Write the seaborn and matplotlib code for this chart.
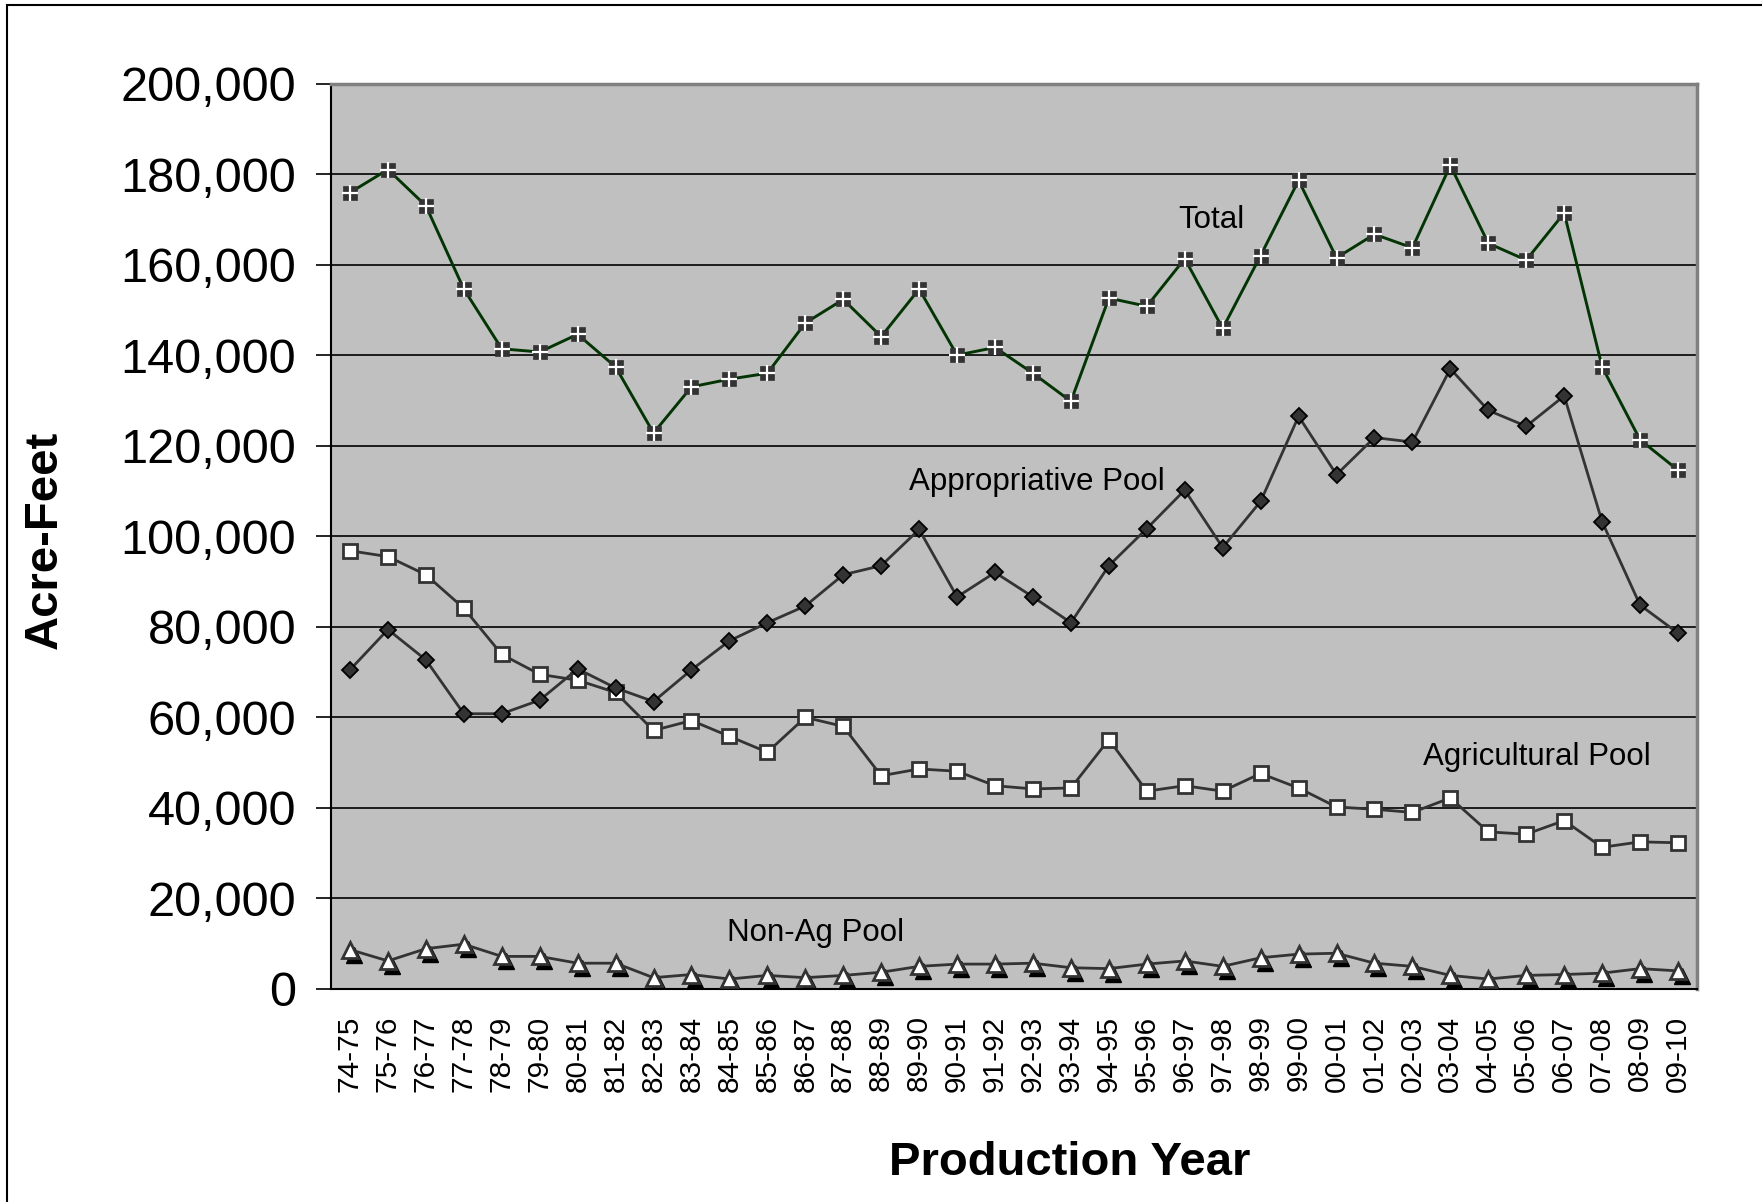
import numpy as np
import pandas as pd
import matplotlib
matplotlib.use("Agg")
import matplotlib.pyplot as plt
import seaborn as sns
from matplotlib.ticker import FuncFormatter, FixedLocator
from matplotlib.transforms import offset_copy
from matplotlib.patches import Rectangle

years = ["74-75", "75-76", "76-77", "77-78", "78-79", "79-80", "80-81", "81-82",
         "82-83", "83-84", "84-85", "85-86", "86-87", "87-88", "88-89", "89-90",
         "90-91", "91-92", "92-93", "93-94", "94-95", "95-96", "96-97", "97-98",
         "98-99", "99-00", "00-01", "01-02", "02-03", "03-04", "04-05", "05-06",
         "06-07", "07-08", "08-09", "09-10"]

total = [175900, 181000, 173000, 154600, 141400, 140700, 144600, 137400,
         122800, 133000, 134700, 136000, 147100, 152300, 144100, 154600,
         140000, 141700, 136000, 129800, 152600, 150800, 161300, 145900,
         162000, 178600, 161500, 166700, 163700, 181900, 164700, 161000,
         171400, 137400, 121300, 114600]

appropriative = [70500, 79400, 72700, 60800, 60800, 63800, 70700, 66500,
                 63500, 70500, 76900, 80900, 84600, 91500, 93500, 101500,
                 86600, 92000, 86600, 80900, 93500, 101700, 110200, 97500,
                 107700, 126500, 113600, 121800, 120800, 137000, 127800, 124300,
                 131000, 103200, 84800, 78600]

agricultural = [96800, 95500, 91500, 84100, 73900, 69500, 68200, 65500,
                57100, 59300, 55800, 52300, 60000, 58000, 47100, 48600,
                48100, 44900, 44200, 44400, 55100, 43700, 44900, 43700,
                47600, 44400, 40200, 39700, 39000, 42200, 34700, 34200,
                37200, 31300, 32500, 32300]

non_ag = [8700, 6200, 8900, 9900, 7200, 7200, 5700, 5700,
          2500, 3200, 2200, 3000, 2500, 3000, 3700, 5000,
          5500, 5500, 5700, 4700, 4500, 5500, 6200, 5000,
          6900, 7700, 7900, 5700, 5000, 3000, 2200, 3000,
          3200, 3500, 4500, 4000]

y_ticks = list(range(0, 200001, 20000))

sns.set_style("white")
plt.rcParams['font.family'] = ['Liberation Sans', 'DejaVu Sans']
plt.rcParams['text.color'] = 'black'
plt.rcParams['xtick.color'] = 'black'
plt.rcParams['ytick.color'] = 'black'

W, H = 1762, 1202
fig = plt.figure(figsize=(W / 100, H / 100), dpi=100)
L, R, T, B = 331, 1697, 83.5, 989
ax = fig.add_axes([L / W, 1 - B / H, (R - L) / W, (B - T) / H])
ax.set_facecolor('#C0C0C0')

x = np.arange(len(years))
df = pd.DataFrame({"x": x, "Total": total, "Appropriative": appropriative,
                   "Agricultural": agricultural, "NonAg": non_ag})

line_gray = '#333333'

# Non-Ag shadow triangles
ax.plot(df["x"], df["NonAg"], ls='none', marker='^', ms=11, mfc='black', mec='black',
        transform=offset_copy(ax.transData, fig=fig, x=4, y=-5, units='dots'), zorder=2.5)

sns.lineplot(data=df, x="x", y="NonAg", ax=ax, color=line_gray, lw=2.0, marker='^',
             markersize=11, markerfacecolor='white', markeredgecolor=line_gray,
             markeredgewidth=2.0, sort=False, zorder=3)

sns.lineplot(data=df, x="x", y="Agricultural", ax=ax, color=line_gray, lw=2.0, marker='s',
             markersize=10, markerfacecolor='white', markeredgecolor=line_gray,
             markeredgewidth=2.0, sort=False, zorder=3)

sns.lineplot(data=df, x="x", y="Appropriative", ax=ax, color=line_gray, lw=2.0, marker='D',
             markersize=8, markerfacecolor='#333333', markeredgecolor='black',
             markeredgewidth=1.3, sort=False, zorder=3)

sns.lineplot(data=df, x="x", y="Total", ax=ax, color='#033403', lw=2.1, marker='s',
             markersize=10.5, markerfacecolor='#333333', markeredgecolor='#333333',
             markeredgewidth=0.5, sort=False, zorder=3)
ax.plot(df["x"], df["Total"], ls='none', marker='+', ms=11, mew=1.6, color='white', zorder=4)

# axes
ax.set_xlim(-0.5, len(years) - 0.5)
ax.set_ylim(0, 200000)
ax.set_yticks(y_ticks)
ax.yaxis.set_major_formatter(FuncFormatter(lambda v, p: f"{int(v):,}"))
ax.set_xticks(x)
ax.set_xticklabels(years, rotation=90)
ax.xaxis.set_minor_locator(FixedLocator(np.arange(-0.5, len(years), 1.0)))
ax.tick_params(axis='x', which='major', length=0, pad=19, labelsize=21.5, labelcolor='black')
ax.tick_params(axis='x', which='minor', length=7, width=1.2, color='black')
ax.tick_params(axis='y', which='major', length=11, width=1.2, color='black', pad=14,
               labelsize=35, labelcolor='black', left=True)
ax.set_xlabel("")
ax.set_ylabel("")

ax.yaxis.grid(True, color='black', lw=1.2)
ax.xaxis.grid(False)
ax.set_axisbelow(True)

for s in ['left', 'bottom']:
    ax.spines[s].set_color('black')
    ax.spines[s].set_linewidth(1.5)
for s in ['top', 'right']:
    ax.spines[s].set_color('#808080')
    ax.spines[s].set_linewidth(2.5)

# series labels
lab_kw = dict(fontsize=22.5, ha='left', va='baseline', color='black')
ax.text(21.82, 168000, "Total", **lab_kw)
ax.text(14.73, 110200, "Appropriative Pool", **lab_kw)
ax.text(28.28, 49500, "Agricultural Pool", **lab_kw)
ax.text(9.94, 10600, "Non-Ag Pool", **lab_kw)

# axis titles
fig.text(1070 / W, 1 - 1175 / H, "Production Year", fontsize=34, fontweight='bold',
         ha='center', va='baseline', color='black')
fig.text(45 / W, 1 - 540 / H, "Acre-Feet", fontsize=34, fontweight='bold',
         ha='center', va='center', rotation=90, color='black')

# outer border
fig.patches.append(Rectangle((7 / W, -0.1), 2.0, 1 - 5 / H + 0.1, transform=fig.transFigure,
                             fill=False, edgecolor='black', lw=1.5, clip_on=False))

fig.savefig("out.png", dpi=100)
